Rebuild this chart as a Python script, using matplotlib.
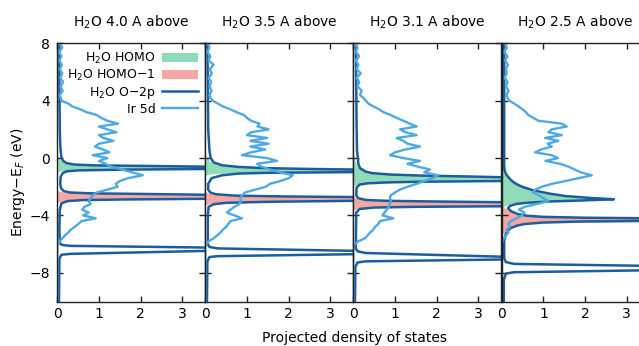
import matplotlib
matplotlib.use("Agg")
import matplotlib.pyplot as plt
from matplotlib.patches import Patch
from matplotlib.lines import Line2D

# ---------------------------------------------------------------- data
TITLES = [r"H$_2$O 4.0 A above", r"H$_2$O 3.5 A above",
          r"H$_2$O 3.1 A above", r"H$_2$O 2.5 A above"]

# Ir 5d projected DOS on a shared energy grid (eV relative to E_F)
E_IR = [8.0, 7.7, 7.4, 7.1, 6.8, 6.5, 6.2, 5.9, 5.6, 5.3, 5.0, 4.7, 4.4,
        4.2, 4.0, 3.8, 3.6, 3.4, 3.2, 3.0, 2.8, 2.6, 2.4, 2.2, 2.0, 1.8,
        1.6, 1.4, 1.2, 1.0, 0.8, 0.6, 0.4, 0.2, 0.0, -0.2, -0.4, -0.6,
        -0.8, -1.0, -1.2, -1.4, -1.6, -1.8, -2.0, -2.2, -2.4, -2.6, -2.8,
        -3.0, -3.2, -3.4, -3.6, -3.8, -4.0, -4.2, -4.4, -4.6, -4.8, -5.0,
        -5.2, -5.4, -5.6, -5.8, -6.0, -6.2, -10.0]

IR_40 = [0.05, 0.12, 0.04, 0.10, 0.05, 0.11, 0.06, 0.12, 0.07, 0.14, 0.08, 0.13, 0.06,
         0.08, 0.10, 0.26, 0.36, 0.55, 0.70, 0.95, 1.05, 1.20, 1.46, 1.00, 1.20, 1.42,
         1.00, 1.10, 1.35, 1.00, 0.90, 1.10, 1.25, 0.85, 1.20, 1.00, 1.15, 1.30,
         1.55, 1.80, 2.05, 1.70, 1.50, 1.40, 1.45, 1.20, 0.95, 0.85, 0.80,
         0.75, 0.80, 0.65, 0.60, 0.75, 0.62, 0.92, 0.58, 0.50, 0.42, 0.32,
         0.26, 0.18, 0.12, 0.06, 0.02, 0.00, 0.00]

IR_35 = [0.06, 0.10, 0.05, 0.12, 0.08, 0.20, 0.10, 0.16, 0.08, 0.14, 0.10, 0.15, 0.10,
         0.12, 0.18, 0.30, 0.42, 0.60, 0.75, 0.92, 1.00, 1.10, 1.30, 1.25, 1.52, 1.10,
         1.00, 1.48, 1.08, 1.52, 1.08, 1.44, 1.10, 0.88, 1.48, 1.72, 1.24, 1.35,
         1.55, 1.80, 2.10, 2.00, 1.80, 1.55, 1.45, 1.20, 0.95, 0.88, 0.84,
         0.85, 0.82, 0.70, 0.60, 0.52, 0.70, 0.88, 0.60, 0.55, 0.50, 0.42,
         0.36, 0.28, 0.20, 0.08, 0.03, 0.00, 0.00]

IR_31 = [0.05, 0.10, 0.06, 0.14, 0.06, 0.12, 0.08, 0.18, 0.08, 0.14, 0.10, 0.20, 0.16,
         0.24, 0.30, 0.36, 0.48, 0.62, 0.72, 0.90, 1.04, 1.20, 1.35, 1.52, 1.12, 1.25,
         1.52, 1.04, 1.20, 1.30, 1.60, 1.25, 1.00, 0.88, 1.20, 1.60, 1.30, 1.55,
         1.84, 1.70, 2.04, 1.90, 1.70, 1.52, 1.30, 1.12, 1.00, 0.90, 0.88,
         0.90, 0.88, 0.85, 0.80, 0.75, 0.70, 0.96, 0.64, 0.60, 0.52, 0.48,
         0.40, 0.34, 0.28, 0.12, 0.04, 0.00, 0.00]

IR_25 = [0.08, 0.12, 0.06, 0.14, 0.08, 0.15, 0.10, 0.12, 0.07, 0.14, 0.10, 0.16, 0.12,
         0.14, 0.18, 0.30, 0.40, 0.50, 0.58, 0.64, 0.76, 0.88, 1.44, 1.56, 1.20, 1.12,
         1.44, 1.04, 1.36, 1.10, 1.20, 0.95, 0.80, 1.20, 1.35, 1.05, 1.40, 1.60,
         1.75, 1.90, 2.16, 1.85, 1.53, 1.20, 0.96, 0.81, 0.75, 0.90, 1.00,
         1.12, 0.85, 0.55, 0.41, 0.55, 0.48, 0.35, 0.22, 0.16, 0.20, 0.12,
         0.16, 0.10, 0.06, 0.02, 0.00, 0.00, 0.00]

# H2O O-2p projected DOS (energies, values); sharp levels run far past the axis
O2P_E_40 = [8.0, 5.0, 2.0, 1.0, 0.5, 0.0, -0.2, -0.35, -0.45, -0.51, -0.545, -0.60,
            -0.68, -0.76, -0.81, -0.86, -0.93, -1.05, -1.3, -1.8, -2.1, -2.3, -2.4,
            -2.46, -2.50, -2.56, -2.70, -2.84, -2.89, -2.93, -3.0, -3.15, -3.6, -5.0,
            -5.9, -6.05, -6.12, -6.24, -6.36, -6.47, -6.68, -6.74, -7.0, -10.0]
O2P_40 = [0.05, 0.05, 0.06, 0.07, 0.08, 0.10, 0.14, 0.22, 0.40, 0.90, 2.0, 3.6,
          40.0, 3.6, 1.5, 0.5, 0.22, 0.13, 0.08, 0.07, 0.09, 0.15, 0.30,
          0.80, 2.0, 3.6, 40.0, 3.6, 1.5, 0.6, 0.25, 0.10, 0.06, 0.05,
          0.06, 0.10, 0.30, 3.6, 40.0, 3.6, 0.30, 0.10, 0.05, 0.04]

O2P_E_35 = [8.0, 5.0, 2.0, 1.0, 0.5, 0.0, -0.3, -0.5, -0.62, -0.70, -0.76, -0.80,
            -0.89, -0.98, -1.03, -1.08, -1.2, -1.4, -1.8, -2.2, -2.4, -2.52, -2.62,
            -2.68, -2.72, -2.86, -2.98, -3.05, -3.12, -3.22, -3.4, -4.0, -6.0, -6.2,
            -6.3, -6.47, -6.58, -6.70, -6.84, -6.9, -7.2, -10.0]
O2P_35 = [0.05, 0.06, 0.07, 0.09, 0.10, 0.13, 0.20, 0.40, 0.80, 1.4, 2.5, 3.6,
          40.0, 3.6, 1.5, 0.8, 0.40, 0.15, 0.07, 0.07, 0.12, 0.25, 0.70,
          2.0, 3.6, 40.0, 3.6, 1.5, 0.5, 0.20, 0.08, 0.06, 0.06, 0.10,
          0.30, 3.6, 40.0, 3.6, 0.30, 0.10, 0.05, 0.04]

O2P_E_31 = [8.0, 5.0, 2.0, 0.5, 0.0, -0.4, -0.7, -0.95, -1.05, -1.15, -1.22, -1.30,
            -1.34, -1.47, -1.60, -1.65, -1.70, -1.76, -1.85, -2.05, -2.6, -2.8, -2.92,
            -2.98, -3.03, -3.08, -3.22, -3.36, -3.40, -3.45, -3.55, -3.8, -6.3, -6.5,
            -6.62, -6.88, -6.97, -7.07, -7.20, -7.28, -7.6, -10.0]
O2P_31 = [0.06, 0.07, 0.08, 0.09, 0.11, 0.12, 0.16, 0.30, 0.45, 0.90, 1.6, 3.0,
          3.6, 40.0, 3.6, 1.6, 0.8, 0.35, 0.15, 0.08, 0.07, 0.12, 0.30,
          0.80, 2.0, 3.6, 40.0, 3.6, 1.5, 0.5, 0.15, 0.07, 0.06, 0.10,
          0.30, 3.6, 40.0, 3.6, 0.30, 0.10, 0.05, 0.04]

O2P_E_25 = [8.0, 5.0, 3.0, 1.0, 0.0, -0.5, -0.85, -1.1, -1.3, -1.5, -1.65, -1.85,
            -2.0, -2.23, -2.47, -2.65, -2.79, -2.87, -2.95, -3.03, -3.12, -3.2, -3.33,
            -3.5, -3.7, -3.9, -4.02, -4.10, -4.16, -4.20, -4.30, -4.38, -4.43, -4.5,
            -4.6, -4.7, -4.9, -5.25, -5.8, -7.0, -7.25, -7.38, -7.52, -7.67, -7.82,
            -7.96, -8.05, -8.5, -10.0]
O2P_25 = [0.06, 0.06, 0.06, 0.06, 0.06, 0.06, 0.07, 0.10, 0.15, 0.21, 0.27, 0.38,
          0.49, 0.73, 1.13, 1.53, 2.17, 2.69, 2.00, 1.13, 0.60, 0.35, 0.20,
          0.15, 0.22, 0.38, 0.60, 1.0, 2.0, 3.6, 40.0, 3.6, 1.8, 0.97,
          0.55, 0.38, 0.20, 0.10, 0.06, 0.06, 0.10, 0.30, 3.6, 40.0, 3.6,
          0.30, 0.10, 0.05, 0.05]

# H2O HOMO projection (filled green)
HOMO_E_40 = [0.3, 0.0, -0.2, -0.35, -0.45, -0.51, -0.545, -0.60, -0.68, -0.76, -0.81,
             -0.86, -0.92, -1.0, -1.1]
HOMO_40 = [0.0, 0.03, 0.09, 0.18, 0.36, 0.85, 1.9, 3.5, 38.0, 3.5, 1.4,
           0.40, 0.12, 0.03, 0.0]
HOMO_E_35 = [0.3, 0.0, -0.3, -0.5, -0.62, -0.70, -0.76, -0.80, -0.89, -0.98, -1.03,
             -1.08, -1.14, -1.22, -1.3]
HOMO_35 = [0.0, 0.04, 0.14, 0.35, 0.75, 1.3, 2.4, 3.5, 38.0, 3.5, 1.3,
           0.5, 0.12, 0.02, 0.0]
HOMO_E_31 = [0.5, 0.0, -0.4, -0.7, -0.95, -1.05, -1.15, -1.22, -1.30, -1.34, -1.47,
             -1.60, -1.65, -1.70, -1.76, -1.85, -1.95, -2.05]
HOMO_31 = [0.0, 0.03, 0.07, 0.13, 0.28, 0.43, 0.85, 1.5, 2.9, 3.5, 38.0,
           3.5, 1.5, 0.7, 0.30, 0.10, 0.02, 0.0]
HOMO_E_25 = [4.5, 4.0, 2.0, 0.0, -0.5, -0.85, -1.1, -1.3, -1.5, -1.65, -1.85, -2.0,
             -2.23, -2.47, -2.65, -2.79, -2.87, -2.95, -3.03, -3.12, -3.2, -3.33, -3.45]
HOMO_25 = [0.0, 0.02, 0.03, 0.035, 0.04, 0.05, 0.09, 0.14, 0.20, 0.26, 0.36, 0.47,
           0.70, 1.08, 1.45, 2.05, 2.55, 1.85, 1.00, 0.45, 0.20, 0.06, 0.0]

# H2O HOMO-1 projection (filled red)
HOMO1_E_40 = [-2.2, -2.35, -2.42, -2.47, -2.50, -2.56, -2.70, -2.84, -2.89, -2.93,
              -3.0, -3.1, -3.2]
HOMO1_40 = [0.0, 0.05, 0.20, 0.70, 1.9, 3.5, 38.0, 3.5, 1.4, 0.5, 0.15, 0.03, 0.0]
HOMO1_E_35 = [-2.3, -2.45, -2.55, -2.62, -2.68, -2.72, -2.86, -2.98, -3.05, -3.12,
              -3.2, -3.3, -3.4]
HOMO1_35 = [0.0, 0.05, 0.20, 0.60, 1.9, 3.5, 38.0, 3.5, 1.4, 0.45, 0.12, 0.02, 0.0]
HOMO1_E_31 = [-2.6, -2.8, -2.92, -2.98, -3.03, -3.08, -3.22, -3.36, -3.40, -3.45,
              -3.55, -3.65, -3.75]
HOMO1_31 = [0.0, 0.06, 0.25, 0.75, 1.9, 3.5, 38.0, 3.5, 1.4, 0.45, 0.12, 0.02, 0.0]
HOMO1_E_25 = [-3.3, -3.5, -3.7, -3.9, -4.02, -4.10, -4.16, -4.20, -4.30, -4.38, -4.43,
              -4.5, -4.6, -4.7, -4.9, -5.1, -5.3, -5.45]
HOMO1_25 = [0.0, 0.08, 0.18, 0.33, 0.55, 0.95, 1.9, 3.5, 38.0, 3.5, 1.7,
            0.92, 0.52, 0.36, 0.20, 0.10, 0.03, 0.0]

X_TICKS = [0, 1, 2, 3]
Y_TICKS = [-8, -4, 0, 4, 8]

# ---------------------------------------------------------------- style
GREEN = "#90dbb8"
RED = "#f5a8a3"
DARK = "#1b5d9e"
LIGHT = "#4ea9e3"
FRAME = "#222222"

plt.rcParams["font.family"] = ["DejaVu Sans"]
plt.rcParams["mathtext.fontset"] = "dejavusans"

W, H = 639, 346
fig = plt.figure(figsize=(W / 100, H / 100), dpi=100)

panels = [
    (IR_40, O2P_E_40, O2P_40, HOMO_E_40, HOMO_40, HOMO1_E_40, HOMO1_40),
    (IR_35, O2P_E_35, O2P_35, HOMO_E_35, HOMO_35, HOMO1_E_35, HOMO1_35),
    (IR_31, O2P_E_31, O2P_31, HOMO_E_31, HOMO_31, HOMO1_E_31, HOMO1_31),
    (IR_25, O2P_E_25, O2P_25, HOMO_E_25, HOMO_25, HOMO1_E_25, HOMO1_25),
]

lefts = [57.3, 205.3, 353.3, 501.7]
ax_w, ax_top, ax_bot = 148.0, 43.3, 301.5

for i, (ir, oe, o, he, h, h1e, h1) in enumerate(panels):
    ax = fig.add_axes([lefts[i] / W, 1 - ax_bot / H, ax_w / W, (ax_bot - ax_top) / H])
    ax.fill_betweenx(he, 0, h, color=GREEN, lw=0, zorder=1)
    ax.fill_betweenx(h1e, 0, h1, color=RED, lw=0, zorder=1)
    ax.plot(o, oe, color=DARK, lw=1.8, zorder=3, solid_joinstyle="round")
    ax.plot(ir, E_IR, color=LIGHT, lw=1.7, zorder=4, solid_joinstyle="round")
    ax.set_xlim(0, 3.55)
    ax.set_ylim(-10, 8)
    ax.set_xticks(X_TICKS)
    ax.set_yticks(Y_TICKS)
    ax.tick_params(direction="in", top=True, right=True, length=4, width=1,
                   labelsize=10, color=FRAME)
    ax.tick_params(axis="x", pad=4)
    ax.tick_params(axis="y", pad=5)
    if i > 0:
        ax.set_yticklabels([])
    for sp in ax.spines.values():
        sp.set_color(FRAME)
        sp.set_linewidth(1.0)
        sp.set_zorder(5)
    ax.set_title(TITLES[i], fontsize=10, pad=12)

    if i == 0:
        handles = [Patch(facecolor=GREEN, edgecolor="none"),
                   Patch(facecolor=RED, edgecolor="none"),
                   Line2D([], [], color=DARK, lw=1.8),
                   Line2D([], [], color=LIGHT, lw=1.7)]
        labels = [r"H$_2$O HOMO", r"H$_2$O HOMO−1", r"H$_2$O O−2p", "Ir 5d"]
        ax.legend(handles, labels, loc="upper right", frameon=False,
                  markerfirst=False, fontsize=9, handlelength=2.9,
                  handletextpad=0.5, labelspacing=0.15, borderaxespad=0.3,
                  borderpad=0.3)

fig.text(18 / W, 1 - 182 / H, r"Energy−E$_F$ (eV)", rotation=90,
         ha="center", va="center", fontsize=10)
fig.text(355 / W, 1 - 338 / H, "Projected density of states",
         ha="center", va="center", fontsize=10)

fig.savefig("out.png", dpi=100)
